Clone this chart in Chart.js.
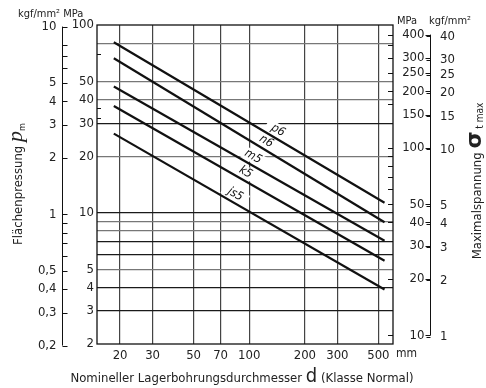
<!DOCTYPE html>
<html>
<head>
<meta charset="utf-8">
<script src="https://cdn.jsdelivr.net/npm/chart.js@4/dist/chart.umd.min.js"></script>
<style>
  html, body { margin: 0; background: #fff; }
</style>
</head>
<body>
<canvas id="chart" width="486" height="388"></canvas>
<script>
const FONT = "'Liberation Sans Narrow', 'DejaVu Sans Condensed', 'Arial Narrow', sans-serif";
const KGF = 9.807;        // MPa per kgf/mm²
const SIGMA_RATIO = 4.5;  // σ t max on the right = ratio * p m on the left

// bore diameter d [mm] at both ends of each line
const boreMm = [18.5, 540];
// surface pressure p m [MPa] at those diameters, per fit class
const p6  = [81, 11.3];
const n6  = [66.5, 8.9];
const m5  = [47, 7.1];
const k5  = [37, 5.55];
const js5 = [26.4, 3.9];
const fitClasses = ['p6', 'n6', 'm5', 'k5', 'js5'];
const fitValues = [p6, n6, m5, k5, js5];

// axis ticks
const xTicks = [20, 30, 50, 70, 100, 200, 300, 500];
const mpaLabels = [100, 50, 40, 30, 20, 10, 5, 4, 3, 2];
const mpaGrid = [80, 50, 40, 30, 20, 10, 9, 8, 7, 6, 5, 4, 3];
const mpaDark = [30, 10, 7, 6, 4, 3];
const mpaInnerTicks = [70, 36, 32];
const kgfLabels = [10, 5, 4, 3, 2, 1, 0.5, 0.4, 0.3, 0.2];
const kgfMinor = [8, 7, 6, 0.9, 0.8, 0.7, 0.6];
const sigmaMpa = [400, 300, 250, 200, 150, 100, 50, 40, 30, 20, 10];
const sigmaKgf = [40, 30, 25, 20, 15, 10, 5, 4, 3, 2, 1];
const sigmaInnerTicks = [400, 350, 300, 250, 200, 170, 100, 90, 80, 70, 60, 50, 40, 20, 10];

const fmt = v => String(v).replace('.', ',');

// writes a run of differently styled pieces on one baseline
function drawRun(ctx, parts, x, y) {
	let total = 0;
	parts.forEach(p => { ctx.font = p[1]; total += ctx.measureText(p[0]).width; });
	let cx = x - total / 2;
	parts.forEach(p => {
		ctx.font = p[1];
		ctx.fillText(p[0], cx, y + (p[2] || 0));
		cx += ctx.measureText(p[0]).width;
	});
}

// fit class names, written just above their own line and parallel to it
const classLabels = {
	id: 'classLabels',
	beforeDatasetsDraw(chart) {
		const {ctx, scales: {x, y}} = chart;
		const at = [136, 117.5, 100, 91, 80];   // d where each name sits
		ctx.save();
		ctx.font = 'italic 12px ' + FONT;
		ctx.textAlign = 'center';
		ctx.textBaseline = 'middle';
		fitClasses.forEach((name, i) => {
			const vals = fitValues[i];
			const x0 = x.getPixelForValue(boreMm[0]), x1 = x.getPixelForValue(boreMm[1]);
			const y0 = y.getPixelForValue(vals[0]), y1 = y.getPixelForValue(vals[1]);
			const ang = Math.atan2(y1 - y0, x1 - x0);
			const px = x.getPixelForValue(at[i]);
			const py = y0 + (px - x0) * (y1 - y0) / (x1 - x0);
			const w = ctx.measureText(name).width + 12;
			ctx.save();
			ctx.translate(px, py);
			ctx.rotate(ang);
			ctx.translate(0, -8);
			ctx.fillStyle = '#fff';
			ctx.fillRect(-w / 2, -6, w, 12);
			ctx.fillStyle = '#111';
			ctx.fillText(name, 0, 0);
			ctx.restore();
		});
		ctx.restore();
	}
};

// frame, the kgf/mm² scale on the left, the σ scales on the right, titles
const extraAxes = {
	id: 'extraAxes',
	afterDraw(chart) {
		const {ctx, chartArea: a, scales: {y, yk, yr, yrk}} = chart;
		ctx.save();
		ctx.strokeStyle = '#111';
		ctx.fillStyle = '#222';
		ctx.lineWidth = 1.3;
		ctx.strokeRect(a.left, a.top, a.right - a.left, a.bottom - a.top);

		// small inner ticks on both plot edges
		ctx.lineWidth = 1;
		ctx.beginPath();
		mpaInnerTicks.forEach(v => {
			const py = Math.round(y.getPixelForValue(v)) + 0.5;
			ctx.moveTo(a.left, py); ctx.lineTo(a.left + 4, py);
		});
		sigmaInnerTicks.forEach(v => {
			const py = Math.round(yr.getPixelForValue(v)) + 0.5;
			ctx.moveTo(a.right, py); ctx.lineTo(a.right - 5, py);
		});
		ctx.stroke();

		// left kgf/mm² scale
		const lx = 62.5;
		ctx.beginPath();
		ctx.moveTo(lx, yk.getPixelForValue(10));
		ctx.lineTo(lx, yk.getPixelForValue(0.2));
		kgfLabels.concat(kgfMinor).forEach(v => {
			const py = Math.round(yk.getPixelForValue(v)) + 0.5;
			ctx.moveTo(lx, py); ctx.lineTo(lx + 5, py);
		});
		ctx.stroke();
		ctx.font = '13px ' + FONT;
		ctx.textAlign = 'right';
		ctx.textBaseline = 'middle';
		kgfLabels.forEach(v => ctx.fillText(fmt(v), lx - 6, yk.getPixelForValue(v)));

		// right MPa and kgf/mm² scale
		const rx = 430.5;
		ctx.beginPath();
		ctx.moveTo(rx, yr.getPixelForValue(400));
		ctx.lineTo(rx, yr.getPixelForValue(10));
		sigmaMpa.forEach(v => {
			const py = Math.round(yr.getPixelForValue(v)) + 0.5;
			ctx.moveTo(rx, py); ctx.lineTo(rx - 5, py);
		});
		sigmaKgf.forEach(v => {
			const py = Math.round(yrk.getPixelForValue(v)) + 0.5;
			ctx.moveTo(rx, py); ctx.lineTo(rx - 4, py);
		});
		ctx.stroke();
		ctx.textAlign = 'right';
		sigmaMpa.forEach(v => ctx.fillText(String(v), rx - 6, yr.getPixelForValue(v)));
		ctx.textAlign = 'left';
		sigmaKgf.forEach(v => ctx.fillText(String(v), 440, yrk.getPixelForValue(v)));

		// unit headers
		ctx.textBaseline = 'alphabetic';
		ctx.textAlign = 'left';
		ctx.font = '11px ' + FONT;
		ctx.fillText('kgf/mm² MPa', 18, 17);
		ctx.fillText('MPa', 397, 24);
		ctx.fillText('kgf/mm²', 429, 24);
		ctx.font = '12px ' + FONT;
		ctx.fillText('mm', 396, 357);

		// axis titles
		ctx.fillStyle = '#222';
		drawRun(ctx, [
			['Nomineller Lagerbohrungsdurchmesser ', '13px ' + FONT],
			['d', '20px ' + FONT],
			[' (Klasse Normal)', '13px ' + FONT]
		], 242, 382);

		ctx.save();
		ctx.translate(22, 184);
		ctx.rotate(-Math.PI / 2);
		drawRun(ctx, [
			['Flächenpressung ', '13px ' + FONT],
			['p', 'italic 22px "Liberation Serif", serif'],
			['m', '9px ' + FONT, 3]
		], 0, 0);
		ctx.restore();

		ctx.save();
		ctx.translate(481, 181);
		ctx.rotate(-Math.PI / 2);
		drawRun(ctx, [
			['Maximalspannung ', '13px ' + FONT],
			['σ', 'bold 22px "DejaVu Sans", sans-serif'],
			[' t max', '10px ' + FONT, 2]
		], 0, 0);
		ctx.restore();
		ctx.restore();
	}
};

new Chart(document.getElementById('chart'), {
	type: 'scatter',
	data: {
		datasets: fitValues.map((vals, i) => ({
			label: fitClasses[i],
			data: boreMm.map((d, j) => ({x: d, y: vals[j]})),
			showLine: true,
			borderColor: '#111',
			borderWidth: 2.2,
			pointRadius: 0,
			yAxisID: 'y'
		}))
	},
	options: {
		responsive: false,
		devicePixelRatio: 1,
		animation: false,
		layout: {padding: {left: 67, right: 93, top: 25, bottom: 24}},
		plugins: {legend: {display: false}, tooltip: {enabled: false}},
		scales: {
			x: {
				type: 'logarithmic',
				min: 15, max: 600,
				afterBuildTicks: s => { s.ticks = xTicks.map(v => ({value: v})); },
				afterFit: s => { s.height = 20; },
				grid: {color: '#444', lineWidth: 1.2, drawTicks: false},
				border: {display: false},
				ticks: {
					autoSkip: false, maxRotation: 0, padding: 4,
					color: '#222', font: {family: FONT, size: 13},
					callback: v => String(v)
				}
			},
			y: {
				type: 'logarithmic',
				min: 2, max: 100,
				afterBuildTicks: s => {
					s.ticks = [...new Set([100, 2].concat(mpaGrid))].sort((p, q) => p - q).map(v => ({value: v}));
				},
				afterFit: s => { s.width = 30; },
				grid: {
					drawTicks: false,
					lineWidth: 1.2,
					color: c => {
						const v = c.tick && c.tick.value;
						if (v === 100 || v === 2) return 'rgba(0,0,0,0)';
						return mpaDark.includes(v) ? '#1a1a1a' : '#777';
					}
				},
				border: {display: false},
				ticks: {
					autoSkip: false, padding: 3,
					color: '#222', font: {family: FONT, size: 13},
					callback: v => mpaLabels.includes(v) ? String(v) : ''
				}
			},
			yk: {type: 'logarithmic', display: false, min: 2 / KGF, max: 100 / KGF},
			yr: {type: 'logarithmic', display: false, min: 2 * SIGMA_RATIO, max: 100 * SIGMA_RATIO},
			yrk: {type: 'logarithmic', display: false, min: 2 * SIGMA_RATIO / KGF, max: 100 * SIGMA_RATIO / KGF}
		}
	},
	plugins: [classLabels, extraAxes]
});
</script>
</body>
</html>
